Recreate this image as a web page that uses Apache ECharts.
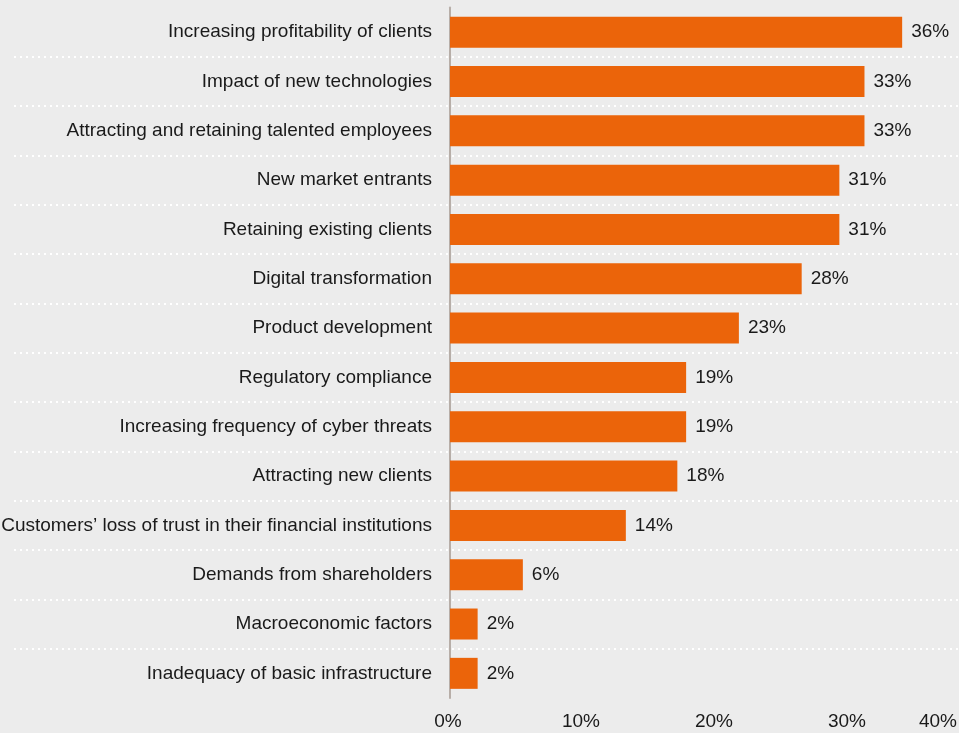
<!DOCTYPE html>
<html>
<head>
<meta charset="utf-8">
<script src="https://cdn.jsdelivr.net/npm/echarts@6/dist/echarts.min.js"></script>
<style>
html,body{margin:0;padding:0;background:#ececec;}
#chart{width:959px;height:733px;}
</style>
</head>
<body>
<div id="chart"></div>
<script>
const categories = [
  "Increasing profitability of clients",
  "Impact of new technologies",
  "Attracting and retaining talented employees",
  "New market entrants",
  "Retaining existing clients",
  "Digital transformation",
  "Product development",
  "Regulatory compliance",
  "Increasing frequency of cyber threats",
  "Attracting new clients",
  "Customers\u2019 loss of trust in their financial institutions",
  "Demands from shareholders",
  "Macroeconomic factors",
  "Inadequacy of basic infrastructure"
];
const values = [36.0, 33.0, 33.0, 31.0, 31.0, 28.0, 23.0, 18.8, 18.8, 18.1, 14.0, 5.8, 2.2, 2.2];
const tickValues = [0, 10, 20, 30, 40];

const FONT = "'Liberation Sans', Arial, Helvetica, sans-serif";
const TOP = 7.5, BOTTOM = 35;

const chart = echarts.init(document.getElementById('chart'));
chart.setOption({
  backgroundColor: '#ececec',
  animation: false,
  grid: [
    { left: 450, right: 6.6, top: TOP, bottom: BOTTOM, containLabel: false, outerBoundsMode: 'none' },
    { left: 14, right: 0, top: TOP, bottom: BOTTOM, containLabel: false, outerBoundsMode: 'none' },
    { left: 448, width: 532, top: TOP, bottom: BOTTOM, containLabel: false, outerBoundsMode: 'none' }
  ],
  xAxis: [
    { gridIndex: 0, type: 'value', min: 0, max: 40, show: false },
    { gridIndex: 1, type: 'value', min: 0, max: 1, show: false },
    { gridIndex: 2, type: 'value', min: tickValues[0], max: tickValues[tickValues.length - 1], interval: 10,
      axisLine: { show: false }, axisTick: { show: false }, splitLine: { show: false },
      axisLabel: {
        margin: 14, color: '#1a1a1a', fontSize: 19, fontFamily: FONT,
        formatter: function (v) { return v === 40 ? '{r|' + v + '%}' : v + '%'; },
        rich: { r: { padding: [0, 84, 0, 0], fontSize: 19, fontFamily: FONT, color: '#1a1a1a' } }
      }
    }
  ],
  yAxis: [
    { gridIndex: 0, type: 'category', inverse: true, data: categories, offset: 1,
      axisLine: { show: true, lineStyle: { color: '#b7aea8', width: 2 } },
      axisTick: { show: false }, splitLine: { show: false },
      axisLabel: { margin: 17, color: '#1a1a1a', fontSize: 19, fontFamily: FONT }
    },
    { gridIndex: 1, type: 'value', min: 0, max: categories.length, interval: 1,
      axisLine: { show: false }, axisTick: { show: false }, axisLabel: { show: false },
      splitLine: { show: true, showMinLine: false, showMaxLine: false,
        lineStyle: { color: '#ffffff', width: 2, type: [2, 4] } }
    },
    { gridIndex: 2, type: 'value', show: false }
  ],
  series: [
    {
      type: 'bar', xAxisIndex: 0, yAxisIndex: 0,
      data: values, barWidth: 31,
      itemStyle: { color: '#eb640a' },
      label: {
        show: true, position: 'right', distance: 9,
        color: '#1a1a1a', fontSize: 19, fontFamily: FONT,
        formatter: function (p) { return Math.round(p.value) + '%'; }
      }
    }
  ]
});
</script>
</body>
</html>
